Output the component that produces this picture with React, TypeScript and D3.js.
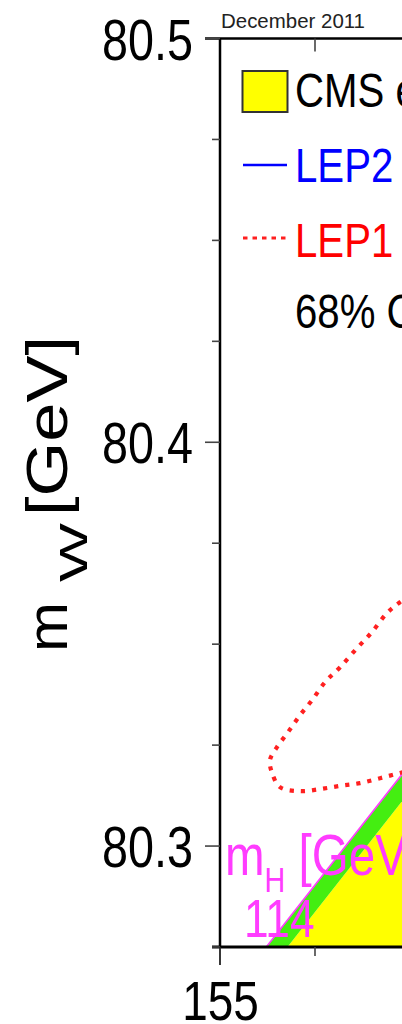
import React from 'react';
import * as d3 from 'd3';

// axis settings
const xDomain = [155, 195];
const yDomain = [80.275, 80.5];
const xMajor = [155, 175, 195];
const xMinor = [160, 165, 170, 180, 185, 190];
const yMajor = [80.3, 80.4, 80.5];
const yMinor = [80.275, 80.325, 80.35, 80.375, 80.425, 80.45, 80.475];

// SM band edges (mt, mW)
const mH114Line = [[156.5, 80.2694], [170.0, 80.3502]];
const cmsEdgeLine = [[157.5, 80.2687], [171.0, 80.3495]];

// LEP1 68% CL contour (visible part)
const lep1Contour = [
  [165.53, 80.3634], [164.47, 80.3604], [163.79, 80.3577], [163.0, 80.353],
  [162.21, 80.349], [161.32, 80.3443], [160.53, 80.3406], [159.84, 80.3361],
  [159.21, 80.3324], [158.58, 80.3282], [158.0, 80.3245], [157.63, 80.3213],
  [157.74, 80.3181], [158.16, 80.3146], [159.21, 80.3136], [160.26, 80.3141],
  [161.32, 80.3149], [162.37, 80.3156], [163.42, 80.3168], [164.47, 80.3181],
  [165.53, 80.3193],
];

const legendLabels = ['CMS excluded', 'LEP2', 'LEP1', '68% CL'];
const legendColors = ['#000', '#0000ff', '#ff0000', '#000'];

const FONT = '"Liberation Sans", Arial, Helvetica, sans-serif';
const SX = 0.82;

function HText({ x, y, size, fill = '#000', anchor = 'start', children }: any) {
  return (
    <text
      transform={`translate(${x},${y}) scale(${SX},1)`}
      fontSize={size}
      fill={fill}
      textAnchor={anchor}
      fontFamily={FONT}
    >
      {children}
    </text>
  );
}

export default function App() {
  const W = 402, H = 1024;
  const x = d3.scaleLinear().domain(xDomain).range([220, 980]);
  const y = d3.scaleLinear().domain(yDomain).range([947, 38.5]);

  const line = d3.line<number[]>().x(d => x(d[0])).y(d => y(d[1]));
  const curve = d3.line<number[]>().x(d => x(d[0])).y(d => y(d[1])).curve(d3.curveCatmullRom);

  const low = yDomain[0] - 0.01;
  const yellowPoly = [
    ...cmsEdgeLine,
    [cmsEdgeLine[1][0] + 20, cmsEdgeLine[1][1]],
    [cmsEdgeLine[1][0] + 20, low],
    [cmsEdgeLine[0][0], low],
  ];
  const greenPoly = [...mH114Line, ...cmsEdgeLine.slice().reverse()];

  const x0 = x(xDomain[0]);
  const yTop = y(yDomain[1]);
  const yBot = y(yDomain[0]);

  const legendY = [107, 182, 257, 328];

  return (
    <svg width={W} height={H} style={{ position: 'absolute', left: 0, top: 0, background: '#fff' }}>
      <defs>
        <clipPath id="plot">
          <rect x={x0} y={yTop} width={x(xDomain[1]) - x0} height={yBot - yTop} />
        </clipPath>
      </defs>
      <rect width={W} height={H} fill="#fff" />

      <g clipPath="url(#plot)">
        <path d={line(yellowPoly as any) + 'Z'} fill="#ffff00" />
        <path d={line(greenPoly as any) + 'Z'} fill="#44ee11" />
        <path d={line(mH114Line as any)!} fill="none" stroke="#ff3cff" strokeWidth={1.6} />
        <path
          d={curve(lep1Contour as any)!}
          fill="none"
          stroke="#ff2020"
          strokeWidth={4.2}
          strokeDasharray="4.2 7"
        />
      </g>

      {/* frame */}
      <line x1={x0} x2={x0} y1={yTop} y2={yBot} stroke="#000" strokeWidth={2.5} />
      <line x1={x0 - 15} x2={W} y1={yTop} y2={yTop} stroke="#000" strokeWidth={2.5} />
      <line x1={x0 - 8} x2={W} y1={yBot} y2={yBot} stroke="#000" strokeWidth={3} />

      {/* y ticks */}
      {yMajor.map(v => (
        <line key={'ym' + v} x1={x0 - 15} x2={x0} y1={y(v)} y2={y(v)} stroke="#444" strokeWidth={1.6} />
      ))}
      {yMinor.map(v => (
        <line key={'yn' + v} x1={x0 - 8} x2={x0} y1={y(v)} y2={y(v)} stroke="#444" strokeWidth={1.6} />
      ))}
      {yMajor.map(v => (
        <HText key={'yl' + v} x={193} y={y(v) + 21} size={57} anchor="end">
          {d3.format('.1f')(v)}
        </HText>
      ))}

      {/* x ticks */}
      {xMajor.map(v => (
        <line key={'xm' + v} x1={x(v)} x2={x(v)} y1={yBot} y2={yBot + 18} stroke="#222" strokeWidth={1.8} />
      ))}
      {xMinor.map(v => (
        <g key={'xn' + v}>
          <line x1={x(v)} x2={x(v)} y1={yBot} y2={yBot + 9} stroke="#444" strokeWidth={1.6} />
          <line x1={x(v)} x2={x(v)} y1={yTop} y2={yTop + 13} stroke="#444" strokeWidth={1.6} />
        </g>
      ))}
      {xMajor.map(v => (
        <HText key={'xl' + v} x={x(v) + 0.5} y={1020} size={56} anchor="middle">
          {v}
        </HText>
      ))}

      {/* y axis title */}
      <text transform="translate(67,652) rotate(-90)" fontSize={57} fontFamily={FONT} textLength={50} lengthAdjust="spacingAndGlyphs">m</text>
      <text transform="translate(87,582) rotate(-90)" fontSize={38} fontFamily={FONT} textLength={59} lengthAdjust="spacingAndGlyphs">W</text>
      <text transform="translate(67,516) rotate(-90)" fontSize={57} fontFamily={FONT} textLength={180} lengthAdjust="spacingAndGlyphs">[GeV]</text>

      {/* date */}
      <text x={221} y={28} fontSize={21} fontFamily={FONT} fill="#222" textLength={144} lengthAdjust="spacingAndGlyphs">
        December 2011
      </text>

      {/* legend */}
      <rect x={242.5} y={71} width={45} height={41} fill="#ffff00" stroke="#333" strokeWidth={2} />
      <line x1={243} x2={287} y1={165} y2={165} stroke="#0000ff" strokeWidth={2.5} />
      <line x1={243} x2={288} y1={238} y2={238} stroke="#ff2020" strokeWidth={3} strokeDasharray="4.5 5" />
      {legendLabels.map((t, i) => (
        <HText key={t} x={295} y={legendY[i]} size={49} fill={legendColors[i]}>
          {t}
        </HText>
      ))}

      {/* mH labels */}
      <text transform={`translate(225,875) scale(${SX},1)`} fontSize={58} fill="#ff3cff" fontFamily={FONT}>
        m
        <tspan fontSize={35} dy={17}>H</tspan>
        <tspan dy={-17}> [GeV]</tspan>
      </text>
      <HText x={244} y={937} size={54} fill="#ff3cff">114</HText>
    </svg>
  );
}
